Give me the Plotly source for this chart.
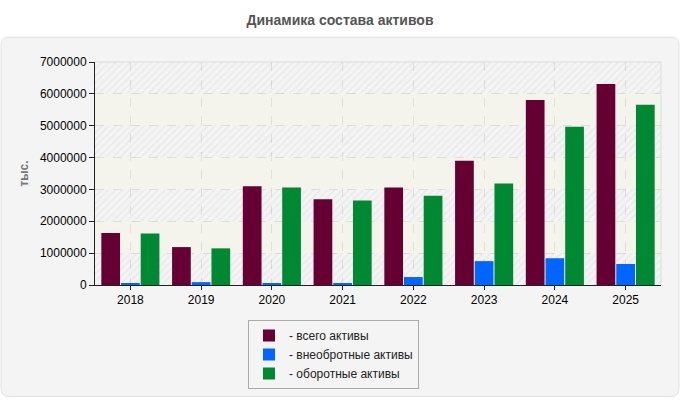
import plotly.graph_objects as go

years = ["2018", "2019", "2020", "2021", "2022", "2023", "2024", "2025"]
total_assets = [1630000, 1190000, 3100000, 2690000, 3060000, 3900000, 5810000, 6310000]
noncurrent_assets = [40000, 90000, 40000, 40000, 250000, 750000, 840000, 660000]
current_assets = [1620000, 1150000, 3060000, 2650000, 2800000, 3190000, 4970000, 5660000]
series_names = ["- всего активы", "- внеобротные активы", "- оборотные активы"]
series_colors = ["#660033", "#0066ff", "#008833"]
y_ticks = [0, 1000000, 2000000, 3000000, 4000000, 5000000, 6000000, 7000000]
hatched_band_starts = [0, 2000000, 4000000, 6000000]
plain_band_starts = [1000000, 3000000, 5000000]
band_size = 1000000

fig = go.Figure()

# background bands on the base axes (translucent so the grid below stays visible)
fig.add_trace(go.Bar(
    x=[0.5] * len(hatched_band_starts), y=[band_size] * len(hatched_band_starts),
    base=hatched_band_starts, width=1, offsetgroup="bg", xaxis="x", yaxis="y",
    showlegend=False, hoverinfo="skip",
    marker=dict(color="rgba(0,0,0,0)", line=dict(width=0),
                pattern=dict(shape="/", fgcolor="#000000", fgopacity=0.05, size=5,
                             solidity=0.25, fillmode="overlay")),
))
fig.add_trace(go.Bar(
    x=[0.5] * len(plain_band_starts), y=[band_size] * len(plain_band_starts),
    base=plain_band_starts, width=1, offsetgroup="bg", xaxis="x", yaxis="y",
    showlegend=False, hoverinfo="skip",
    marker=dict(color="rgba(250,250,185,0.12)", line=dict(width=0)),
))

for name, vals, col in zip(series_names, [total_assets, noncurrent_assets, current_assets], series_colors):
    fig.add_trace(go.Bar(x=years, y=vals, name=name, xaxis="x2", yaxis="y2",
                         marker=dict(color=col, line=dict(width=0))))

# plot geometry in pixels
W, H = 680, 400
L, R, T, B = 95, 19, 62, 114
pw, ph = W - L - R, H - T - B

def px_x(x):
    return (x - L) / pw

def px_y(y):
    return (H - B - y) / ph

# outer rounded panel
x0, x1, y0, y1, r = 1, 679, 37, 398, 8
def P(x, y):
    return f"{px_x(x):.5f},{px_y(y):.5f}"
path = (f"M {P(x0+r,y0)} L {P(x1-r,y0)} Q {P(x1,y0)} {P(x1,y0+r)} L {P(x1,y1-r)} "
        f"Q {P(x1,y1)} {P(x1-r,y1)} L {P(x0+r,y1)} Q {P(x0,y1)} {P(x0,y1-r)} "
        f"L {P(x0,y0+r)} Q {P(x0,y0)} {P(x0+r,y0)} Z")
shapes = [dict(type="path", xref="paper", yref="paper", path=path,
               fillcolor="#f4f4f4", line=dict(color="#e2e2e2", width=1), layer="below"),
          dict(type="path", xref="paper", yref="paper", path="M 0,1 L 1,1 L 1,0",
               line=dict(color="#dddddd", width=1), layer="above")]

fig.update_layout(
    width=W, height=H,
    margin=dict(l=L, r=R, t=T, b=B),
    paper_bgcolor="white",
    plot_bgcolor="white",
    barmode="group",
    bargap=0.165,
    bargroupgap=0.05,
    font=dict(family="Liberation Sans, Arial, sans-serif", size=12, color="#000"),
    title=dict(text="<b>Динамика состава активов</b>", x=0.5, xref="container", xanchor="center",
               y=1 - 20 / H, yref="container", yanchor="middle",
               font=dict(size=14, color="#555555")),
    shapes=shapes,
    showlegend=True,
    legend=dict(x=px_x(248), y=px_y(320), xanchor="left", yanchor="top",
                bgcolor="#f4f4f4", bordercolor="#aaaaaa", borderwidth=1,
                font=dict(size=12, color="#222"), tracegroupgap=0, itemwidth=30,
                traceorder="normal"),
    xaxis=dict(range=[0, 1], visible=False, fixedrange=True),
    yaxis=dict(range=[0, 7000000], visible=False, fixedrange=True),
    xaxis2=dict(
        overlaying="x", type="category",
        showline=True, linecolor="#222", linewidth=1,
        showgrid=True, gridcolor="#dddddd", griddash="dash", gridwidth=1,
        ticks="outside", ticklen=4, tickcolor="#222",
        tickfont=dict(size=12, color="#000"),
    ),
    yaxis2=dict(
        overlaying="y", side="left",
        range=[0, 7000000], tickvals=y_ticks, ticktext=[str(v) for v in y_ticks],
        showline=True, linecolor="#222", linewidth=1,
        showgrid=True, gridcolor="#dddddd", griddash="dash", gridwidth=1,
        ticks="outside", ticklen=5, tickcolor="#222", zeroline=False,
        tickfont=dict(size=12, color="#000"),
        title=dict(text="<b>тыс.</b>", font=dict(size=12, color="#777777"), standoff=8),
    ),
)

fig.write_html("out.html")
